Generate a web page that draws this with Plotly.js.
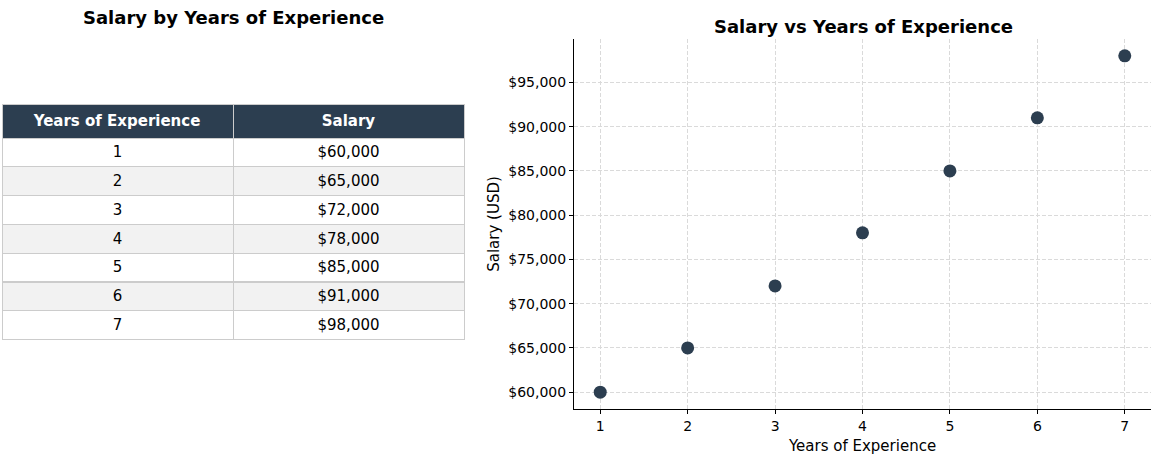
<!DOCTYPE html>
<html>
<head>
<meta charset="utf-8">
<script src="https://cdn.plot.ly/plotly-3.0.1.min.js"></script>
<style>html,body{margin:0;padding:0;background:#fff;}#chart{width:1169px;height:455px;}</style>
</head>
<body>
<div id="chart"></div>
<script>
const years = [1, 2, 3, 4, 5, 6, 7];
const salaries = [60000, 65000, 72000, 78000, 85000, 91000, 98000];
const headerLabels = ["Years of Experience", "Salary"];
const yTickVals = [60000, 65000, 70000, 75000, 80000, 85000, 90000, 95000];
const xTickVals = [1, 2, 3, 4, 5, 6, 7];

const W = 1169, H = 455;
const FONT = "DejaVu Sans, sans-serif";
const dark = "#2c3e50";

const money = v => "$" + v.toLocaleString("en-US");
const salaryStr = salaries.map(money);
const rowFill = years.map((_, i) => i % 2 === 0 ? "#ffffff" : "#f2f2f2");

const table = {
  type: "table",
  domain: {x: [2 / W, 464 / W], y: [0, 1 - 104 / H]},
  columnwidth: [1, 1],
  header: {
    values: headerLabels.map(h => "<b>" + h + "</b>"),
    fill: {color: dark},
    line: {color: "#cccccc", width: 1},
    align: "center",
    height: 25,
    font: {family: FONT, size: 15, color: "#ffffff"}
  },
  cells: {
    values: [years.map(String), salaryStr],
    fill: {color: [rowFill, rowFill]},
    line: {color: "#cccccc", width: 1},
    align: "center",
    height: 28.8,
    font: {family: FONT, size: 15, color: "#000000"}
  }
};

const scatter = {
  type: "scatter",
  mode: "markers",
  x: years,
  y: salaries,
  xaxis: "x",
  yaxis: "y",
  marker: {color: dark, size: 13},
  hoverinfo: "skip"
};

const layout = {
  width: W, height: H,
  margin: {l: 0, r: 0, t: 0, b: 0},
  paper_bgcolor: "#ffffff",
  plot_bgcolor: "#ffffff",
  showlegend: false,
  font: {family: FONT, size: 14, color: "#000000"},
  xaxis: {
    domain: [574 / W, 1151 / W],
    range: [0.7, 7.3],
    tickmode: "array",
    tickvals: xTickVals,
    ticktext: xTickVals.map(String),
    ticks: "outside", ticklen: 4, tickcolor: "#000",
    showline: true, linecolor: "#000", linewidth: 1,
    zeroline: false,
    showgrid: true, gridcolor: "#dadada", griddash: "4px,2px", gridwidth: 1,
    tickfont: {family: FONT, size: 14},
    title: {text: "Years of Experience", font: {family: FONT, size: 15}, standoff: 7},
    anchor: "y"
  },
  yaxis: {
    domain: [1 - 409 / H, 1 - 39 / H],
    range: [58100, 99900],
    tickmode: "array",
    tickvals: yTickVals,
    ticktext: yTickVals.map(money),
    ticks: "outside", ticklen: 4, tickcolor: "#000",
    showline: true, linecolor: "#000", linewidth: 1,
    zeroline: false,
    showgrid: true, gridcolor: "#dadada", griddash: "4px,2px", gridwidth: 1,
    tickfont: {family: FONT, size: 14},
    title: {text: "Salary (USD)", font: {family: FONT, size: 15}, standoff: 5},
    anchor: "x"
  },
  annotations: [
    {text: "<b>Salary by Years of Experience</b>", xref: "paper", yref: "paper",
     x: 233 / W, y: 1 - 18 / H, xanchor: "center", yanchor: "middle", showarrow: false,
     font: {family: FONT, size: 18, color: "#000"}},
    {text: "<b>Salary vs Years of Experience</b>", xref: "paper", yref: "paper",
     x: 863 / W, y: 1 - 26 / H, xanchor: "center", yanchor: "middle", showarrow: false,
     font: {family: FONT, size: 18, color: "#000"}}
  ]
};

Plotly.newPlot("chart", [table, scatter], layout, {displayModeBar: false, staticPlot: true});
</script>
</body>
</html>
